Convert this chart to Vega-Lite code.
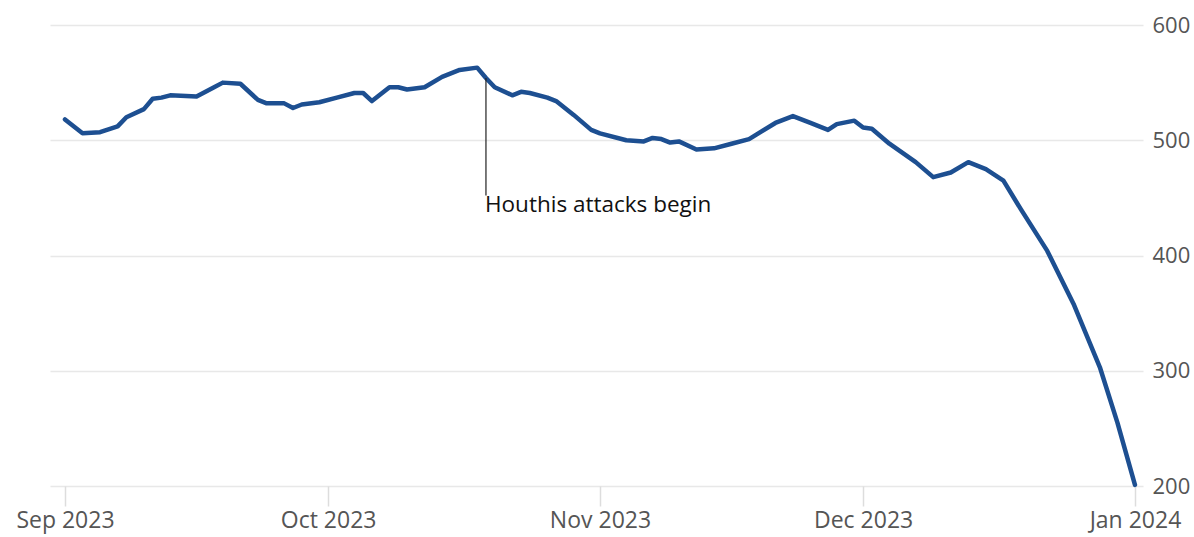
{
  "$schema": "https://vega.github.io/schema/vega-lite/v6.json",
  "width": 1093,
  "height": 461,
  "autosize": {"type": "none"},
  "padding": {"left": 50, "top": 25, "right": 51, "bottom": 51},
  "background": "white",
  "config": {"view": {"stroke": null}, "font": "Open Sans"},
  "datasets": {
    "series": [
      {"date": "2023-09-01", "value": 518},
      {"date": "2023-09-03", "value": 506},
      {"date": "2023-09-05", "value": 507},
      {"date": "2023-09-07", "value": 512},
      {"date": "2023-09-08", "value": 520},
      {"date": "2023-09-10", "value": 527},
      {"date": "2023-09-11", "value": 536},
      {"date": "2023-09-12", "value": 537},
      {"date": "2023-09-13", "value": 539},
      {"date": "2023-09-16", "value": 538},
      {"date": "2023-09-18", "value": 546},
      {"date": "2023-09-19", "value": 550},
      {"date": "2023-09-21", "value": 549},
      {"date": "2023-09-23", "value": 535},
      {"date": "2023-09-24", "value": 532},
      {"date": "2023-09-26", "value": 532},
      {"date": "2023-09-27", "value": 528},
      {"date": "2023-09-28", "value": 531},
      {"date": "2023-09-30", "value": 533},
      {"date": "2023-10-02", "value": 537},
      {"date": "2023-10-04", "value": 541},
      {"date": "2023-10-05", "value": 541},
      {"date": "2023-10-06", "value": 534},
      {"date": "2023-10-08", "value": 546},
      {"date": "2023-10-09", "value": 546},
      {"date": "2023-10-10", "value": 544},
      {"date": "2023-10-12", "value": 546},
      {"date": "2023-10-14", "value": 555},
      {"date": "2023-10-16", "value": 561},
      {"date": "2023-10-18", "value": 563},
      {"date": "2023-10-19", "value": 554},
      {"date": "2023-10-20", "value": 546},
      {"date": "2023-10-22", "value": 539},
      {"date": "2023-10-23", "value": 542},
      {"date": "2023-10-24", "value": 541},
      {"date": "2023-10-26", "value": 537},
      {"date": "2023-10-27", "value": 534},
      {"date": "2023-10-29", "value": 522},
      {"date": "2023-10-31", "value": 509},
      {"date": "2023-11-01", "value": 506},
      {"date": "2023-11-04", "value": 500},
      {"date": "2023-11-06", "value": 499},
      {"date": "2023-11-07", "value": 502},
      {"date": "2023-11-08", "value": 501},
      {"date": "2023-11-09", "value": 498},
      {"date": "2023-11-10", "value": 499},
      {"date": "2023-11-12", "value": 492},
      {"date": "2023-11-14", "value": 493},
      {"date": "2023-11-16", "value": 497},
      {"date": "2023-11-18", "value": 501},
      {"date": "2023-11-21", "value": 515},
      {"date": "2023-11-23", "value": 521},
      {"date": "2023-11-25", "value": 515},
      {"date": "2023-11-27", "value": 509},
      {"date": "2023-11-28", "value": 514},
      {"date": "2023-11-30", "value": 517},
      {"date": "2023-12-01", "value": 511},
      {"date": "2023-12-02", "value": 510},
      {"date": "2023-12-04", "value": 497},
      {"date": "2023-12-07", "value": 481},
      {"date": "2023-12-09", "value": 468},
      {"date": "2023-12-11", "value": 472},
      {"date": "2023-12-13", "value": 481},
      {"date": "2023-12-15", "value": 475},
      {"date": "2023-12-17", "value": 465},
      {"date": "2023-12-19", "value": 440},
      {"date": "2023-12-22", "value": 404},
      {"date": "2023-12-25", "value": 358},
      {"date": "2023-12-28", "value": 303},
      {"date": "2023-12-30", "value": 255},
      {"date": "2024-01-01", "value": 201}
    ],
    "note": [
      {"date": "2023-10-19", "top": 554, "bottom": 452, "label_y": 444, "label": "Houthis attacks begin"}
    ]
  },
  "encoding": {
    "x": {
      "field": "date",
      "type": "temporal",
      "scale": {
        "type": "utc",
        "domain": [
          {"year": 2023, "month": 8, "date": 30, "hours": 7, "utc": true},
          {"year": 2024, "month": 1, "date": 1, "hours": 22, "utc": true}
        ]
      },
      "axis": {
        "title": null,
        "values": [
          {"year": 2023, "month": 9, "date": 1, "utc": true},
          {"year": 2023, "month": 10, "date": 1, "utc": true},
          {"year": 2023, "month": 11, "date": 1, "utc": true},
          {"year": 2023, "month": 12, "date": 1, "utc": true},
          {"year": 2024, "month": 1, "date": 1, "utc": true}
        ],
        "format": "%b %Y",
        "grid": false,
        "domain": false,
        "ticks": true,
        "tickColor": "#dddddd",
        "tickSize": 20,
        "tickWidth": 1.5,
        "labelPadding": 3,
        "labelFlush": false,
        "labelOverlap": false,
        "labelFontSize": 23,
        "labelColor": "#555555",
        "labelFont": "Open Sans"
      }
    }
  },
  "layer": [
    {
      "data": {"name": "series"},
      "mark": {"type": "line", "color": "#1d4f91", "strokeWidth": 4.5, "strokeJoin": "round", "strokeCap": "round"},
      "encoding": {
        "y": {
          "field": "value",
          "type": "quantitative",
          "scale": {"domain": [200, 600], "nice": false, "zero": false},
          "axis": {
            "title": null,
            "orient": "right",
            "values": [200, 300, 400, 500, 600],
            "grid": true,
            "gridColor": "#e8e8e8",
            "gridWidth": 1.5,
            "domain": false,
            "ticks": false,
            "labelPadding": 9,
            "labelFontSize": 22,
            "labelColor": "#555555",
            "labelFont": "Open Sans"
          }
        }
      }
    },
    {
      "data": {"name": "note"},
      "mark": {"type": "rule", "color": "#222222", "strokeWidth": 1.2},
      "encoding": {
        "y": {"field": "top", "type": "quantitative"},
        "y2": {"field": "bottom"}
      }
    },
    {
      "data": {"name": "note"},
      "mark": {"type": "text", "align": "left", "baseline": "middle", "fontSize": 22.5, "color": "#111111", "font": "Open Sans", "dx": -1},
      "encoding": {
        "y": {"field": "label_y", "type": "quantitative"},
        "text": {"field": "label"}
      }
    }
  ]
}
